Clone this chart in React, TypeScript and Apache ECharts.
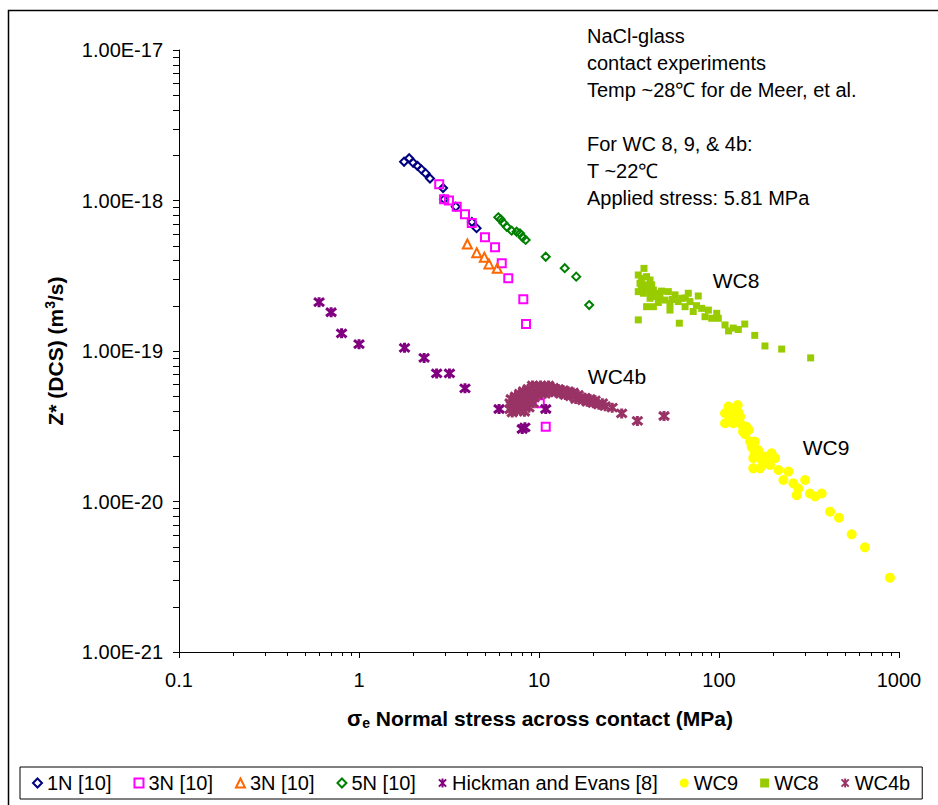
import React, { useEffect, useRef } from "react";
import * as echarts from "echarts";

const FONT = "'Liberation Sans', Arial, Helvetica, sans-serif";

// Axis ranges (log scale)
const X_MIN = 0.1;
const X_MAX = 1000;
const Y_MIN = 1e-21;
const Y_MAX = 1e-17;
// y values are plotted in units of 1e-21 m^3/s to keep the log scale numerically stable
const Y_UNIT = 1e-21;
const MINOR_MULTIPLIERS = [2, 3, 4, 5, 6, 7, 8, 9];
const X_DECADES = [0.1, 1, 10, 100];
const Y_DECADES = [1e-21, 1e-20, 1e-19, 1e-18];

// Series names shown in legend
const LEGEND_NAMES = ["1N [10]", "3N [10]", "3N [10] b", "5N [10]", "Hickman and Evans [8]", "WC9", "WC8", "WC4b"];
const LEGEND_LABELS: Record<string, string> = { "3N [10] b": "3N [10]" };

// Data: [normal stress (MPa), Z* (m^3/s)]
const N1_DATA = [
  [1.78, 1.81e-18], [1.9, 1.91e-18], [2.0, 1.78e-18], [2.11, 1.7e-18], [2.22, 1.61e-18],
  [2.34, 1.52e-18], [2.48, 1.4e-18], [2.93, 1.21e-18], [2.97, 1.02e-18], [3.45, 9.1e-19],
  [4.24, 7.2e-19], [4.5, 6.55e-19],
];
const N3A_DATA = [
  [2.79, 1.28e-18], [2.97, 1.02e-18], [3.16, 1.0e-18], [3.49, 9.1e-19], [3.88, 8.1e-19],
  [4.23, 7.1e-19], [5.01, 5.7e-19], [5.7, 4.9e-19], [6.21, 3.83e-19], [6.75, 3.04e-19],
  [8.18, 2.21e-19], [8.47, 1.51e-19], [10.1, 4.5e-20], [10.9, 3.14e-20],
];
const N3B_DATA = [
  [4.0, 5.14e-19], [4.51, 4.5e-19], [4.97, 4.2e-19], [5.27, 3.79e-19], [5.86, 3.55e-19],
];
const N5_DATA = [
  [5.94, 7.73e-19], [6.12, 7.5e-19], [6.34, 7.1e-19], [6.62, 6.69e-19], [7.05, 6.3e-19],
  [7.51, 6.2e-19], [7.84, 6.05e-19], [8.11, 5.7e-19], [8.43, 5.47e-19], [10.9, 4.23e-19],
  [13.9, 3.55e-19], [16.1, 3.12e-19], [19.0, 2.02e-19],
];
const HICKMAN_DATA = [
  [0.6, 2.11e-19], [0.7, 1.81e-19], [0.8, 1.31e-19], [1.0, 1.11e-19], [1.79, 1.05e-19],
  [2.3, 9.0e-20], [2.7, 7.1e-20], [3.18, 7.1e-20], [3.88, 5.65e-20], [6.0, 4.12e-20],
  [10.9, 4.12e-20], [8.07, 3.03e-20], [8.35, 3.11e-20],
];
const WC9_DATA = [
  [113, 4.27e-20], [127, 4.38e-20], [108, 3.86e-20], [115, 3.66e-20], [123, 3.76e-20],
  [131, 3.66e-20], [108, 3.31e-20], [120, 3.31e-20], [131, 3.31e-20], [136, 3.14e-20],
  [142, 3.14e-20], [136, 2.91e-20], [146, 2.99e-20], [149, 2.5e-20], [158, 2.5e-20],
  [158, 2.09e-20], [169, 2.04e-20], [180, 1.99e-20], [196, 2.09e-20], [155, 1.94e-20],
  [173, 1.89e-20], [188, 1.84e-20], [205, 1.94e-20], [155, 1.66e-20], [169, 1.66e-20],
  [192, 1.75e-20], [214, 1.62e-20], [243, 1.58e-20], [228, 1.39e-20], [259, 1.32e-20],
  [301, 1.39e-20], [276, 1.22e-20], [270, 1.1e-20], [320, 1.13e-20], [342, 1.08e-20],
  [372, 1.13e-20], [414, 8.56e-21], [464, 7.81e-21], [546, 6.05e-21], [647, 4.96e-21],
  [891, 3.12e-21], [118, 4.0e-20], [125, 3.5e-20], [128, 3.9e-20], [140, 2.8e-20],
  [152, 2.3e-20], [165, 2.2e-20], [178, 1.8e-20],
];
const WC8_DATA = [
  [38.3, 3.54e-19], [35.6, 3.2e-19], [37.2, 3.04e-19], [39.6, 3.12e-19], [41.4, 2.96e-19],
  [36.4, 2.82e-19], [38.8, 2.75e-19], [42.3, 2.75e-19], [35.6, 2.48e-19], [38.0, 2.42e-19],
  [41.4, 2.48e-19], [43.2, 2.54e-19], [45.1, 2.42e-19], [47.0, 2.29e-19], [52.3, 2.48e-19],
  [50.1, 2.18e-19], [53.4, 2.07e-19], [53.4, 1.87e-19], [57.0, 2.36e-19], [59.4, 2.13e-19],
  [62.1, 2.24e-19], [67.5, 2.42e-19], [69.0, 2.13e-19], [64.8, 1.97e-19], [71.9, 1.83e-19],
  [76.7, 2.32e-19], [80.1, 1.92e-19], [83.6, 1.69e-19], [87.3, 1.87e-19], [91.1, 1.65e-19],
  [97.1, 1.78e-19], [99.1, 1.65e-19], [39.6, 1.97e-19], [43.2, 1.97e-19], [41.4, 2.24e-19],
  [35.6, 1.61e-19], [60.2, 1.53e-19], [108, 1.49e-19], [113, 1.36e-19], [120, 1.42e-19],
  [128, 1.39e-19], [139, 1.51e-19], [158, 1.27e-19], [180, 1.08e-19], [223, 1.03e-19],
  [323, 9.0e-20], [37, 2.6e-19], [40, 2.65e-19], [44, 2.3e-19], [48, 2.5e-19],
  [46, 2.1e-19], [55, 2.2e-19], [65, 2.25e-19], [75, 2.0e-19],
];
const WC4B_DATA = [
  [6.9, 4.1e-20], [6.9, 4.5e-20], [7.0, 4.8e-20], [7.1, 3.9e-20], [7.2, 4.3e-20],
  [7.3, 4.7e-20], [7.4, 5.0e-20], [7.5, 4.0e-20], [7.6, 4.4e-20], [7.7, 4.9e-20],
  [7.8, 5.2e-20], [7.9, 4.2e-20], [8.0, 4.6e-20], [8.1, 5.0e-20], [8.2, 5.4e-20],
  [8.3, 3.95e-20], [8.4, 4.4e-20], [8.5, 4.8e-20], [8.6, 5.2e-20], [8.7, 5.6e-20],
  [8.8, 4.2e-20], [8.9, 4.6e-20], [9.0, 5.0e-20], [9.1, 5.5e-20], [9.2, 5.9e-20],
  [9.3, 4.5e-20], [9.4, 4.9e-20], [9.5, 5.3e-20], [9.6, 5.8e-20], [9.8, 5.1e-20],
  [10.0, 5.5e-20], [10.2, 5.9e-20], [10.4, 5.3e-20], [10.6, 5.7e-20], [10.8, 5.2e-20],
  [11.0, 5.6e-20], [11.3, 5.9e-20], [11.6, 5.4e-20], [12.0, 5.7e-20], [12.4, 5.3e-20],
  [12.8, 5.6e-20], [13.2, 5.2e-20], [13.6, 5.5e-20], [14.0, 5.1e-20], [14.5, 5.4e-20],
  [15.0, 5.0e-20], [15.5, 5.3e-20], [16.0, 4.8e-20], [16.5, 5.1e-20], [17.0, 4.9e-20],
  [17.5, 4.7e-20], [18.0, 4.9e-20], [18.5, 4.6e-20], [19.2, 4.8e-20], [20.0, 4.5e-20],
  [20.5, 4.7e-20], [21.5, 4.4e-20], [22.5, 4.5e-20], [23.3, 4.3e-20], [25.5, 4.2e-20],
  [28.8, 3.85e-20], [35.2, 3.43e-20], [49.5, 3.7e-20],
];

const NOTE_LINES = [
  "NaCl-glass",
  "contact experiments",
  "Temp ~28\u2103 for de Meer, et al.",
  "",
  "For WC 8, 9, & 4b:",
  "T ~22\u2103",
  "Applied stress: 5.81 MPa",
];

const ASTERISK = "path://M1,1L9,9M9,1L1,9M5,0L5,10";

const scaleY = (data: number[][]) => data.map((d) => [d[0], d[1] / Y_UNIT]);

function hollow(name: string, data: number[][], symbol: string, size: number, color: string) {
  return {
    type: "scatter",
    name,
    data: scaleY(data),
    symbol,
    symbolSize: size,
    itemStyle: { color: "rgba(0,0,0,0)", borderColor: color, borderWidth: 2, opacity: 1 },
  };
}

function filled(name: string, data: number[][], symbol: string, size: number, color: string) {
  return { type: "scatter", name, data: scaleY(data), symbol, symbolSize: size, itemStyle: { color, opacity: 1 } };
}

function star(name: string, data: number[][], color: string) {
  return {
    type: "scatter",
    name,
    data: scaleY(data),
    symbol: ASTERISK,
    symbolSize: 10,
    itemStyle: { color: "rgba(0,0,0,0)", borderColor: color, borderWidth: 3, opacity: 1 },
  };
}

function fmtX(v: number) {
  return String(Number(v.toPrecision(6)));
}
function fmtY(v: number) {
  return (v * Y_UNIT).toExponential(2).toUpperCase();
}

export default function App() {
  const ref = useRef<HTMLDivElement>(null);
  useEffect(() => {
    const chart = echarts.init(ref.current as HTMLDivElement, null, { renderer: "svg" });
    const yMinor: number[][] = [];
    Y_DECADES.forEach((d) => MINOR_MULTIPLIERS.forEach((m) => yMinor.push([X_MIN, (m * d) / Y_UNIT])));
    const xMinor: number[][] = [];
    X_DECADES.forEach((d) => MINOR_MULTIPLIERS.forEach((m) => xMinor.push([m * d, Y_MIN / Y_UNIT])));

    const option: any = {
      animation: false,
      backgroundColor: "#fff",
      textStyle: { fontFamily: FONT },
      grid: { left: 179, top: 50, width: 720, height: 602 },
      xAxis: {
        type: "log",
        logBase: 10,
        min: X_MIN,
        max: X_MAX,
        axisLine: { show: true, onZero: false, lineStyle: { color: "#000", width: 1 } },
        axisTick: { show: true, length: 6, lineStyle: { color: "#000" } },
        axisLabel: { fontSize: 20, fontFamily: FONT, color: "#000", margin: 18, formatter: fmtX },
        splitLine: { show: false },
      },
      yAxis: {
        type: "log",
        logBase: 10,
        min: Y_MIN / Y_UNIT,
        max: Y_MAX / Y_UNIT,
        axisLine: { show: true, onZero: false, lineStyle: { color: "#000", width: 1 } },
        axisTick: { show: true, length: 6, lineStyle: { color: "#000" } },
        axisLabel: { fontSize: 20, fontFamily: FONT, color: "#000", margin: 16, formatter: fmtY },
        splitLine: { show: false },
      },
      legend: {
        data: LEGEND_NAMES,
        left: 20,
        top: 767,
        itemGap: 22,
        itemWidth: 9,
        itemHeight: 9,
        padding: [6, 12, 6, 12],
        borderColor: "#000",
        borderWidth: 1,
        selectedMode: false,
        textStyle: { fontSize: 20, fontFamily: FONT, color: "#000" },
        formatter: (n: string) => LEGEND_LABELS[n] || n,
      },
      series: [
        hollow("1N [10]", N1_DATA, "diamond", 8, "#000080"),
        hollow("3N [10]", N3A_DATA, "rect", 8, "#FF00FF"),
        hollow("3N [10] b", N3B_DATA, "triangle", 9, "#FF6600"),
        hollow("5N [10]", N5_DATA, "diamond", 8, "#008000"),
        star("Hickman and Evans [8]", HICKMAN_DATA, "#800080"),
        filled("WC9", WC9_DATA, "circle", 10, "#FFFF00"),
        filled("WC8", WC8_DATA, "rect", 7, "#99CC00"),
        star("WC4b", WC4B_DATA, "#993366"),
        {
          type: "custom",
          name: "yMinorTicks",
          silent: true,
          data: yMinor,
          renderItem: (_p: any, api: any) => {
            const pt = api.coord([api.value(0), api.value(1)]);
            const y = Math.round(pt[1]) + 0.5;
            return { type: "line", shape: { x1: pt[0] - 6, y1: y, x2: pt[0], y2: y }, style: { stroke: "#000", lineWidth: 1 } };
          },
        },
        {
          type: "custom",
          name: "xMinorTicks",
          silent: true,
          data: xMinor,
          renderItem: (_p: any, api: any) => {
            const pt = api.coord([api.value(0), api.value(1)]);
            const x = Math.round(pt[0]) + 0.5;
            return { type: "line", shape: { x1: x, y1: pt[1], x2: x, y2: pt[1] + 4 }, style: { stroke: "#000", lineWidth: 1 } };
          },
        },
      ],
      graphic: [
        { type: "rect", shape: { x: 8.5, y: 10.5, width: 940, height: 800 }, style: { fill: "none", stroke: "#000", lineWidth: 1.5 }, silent: true },
        {
          type: "text",
          x: 587,
          y: 22,
          style: { text: NOTE_LINES.join("\n"), font: `20px ${FONT}`, fill: "#000", lineHeight: 27, align: "left", verticalAlign: "top" },
        },
        { type: "text", x: 736, y: 280, style: { text: "WC8", font: `21px ${FONT}`, fill: "#000", align: "center", verticalAlign: "middle" } },
        { type: "text", x: 617, y: 376, style: { text: "WC4b", font: `21px ${FONT}`, fill: "#000", align: "center", verticalAlign: "middle" } },
        { type: "text", x: 826, y: 447, style: { text: "WC9", font: `21px ${FONT}`, fill: "#000", align: "center", verticalAlign: "middle" } },
        {
          type: "text",
          x: 540,
          y: 718,
          style: {
            text: "{s|\u03c3}{sub|e}{b| Normal stress across contact (MPa)}",
            align: "center",
            verticalAlign: "middle",
            rich: {
              s: { font: `bold 22px ${FONT}`, fill: "#000" },
              sub: { font: `bold 14px ${FONT}`, fill: "#000", padding: [10, 0, 0, 0] },
              b: { font: `bold 21px ${FONT}`, fill: "#000" },
            },
          },
        },
        {
          type: "text",
          x: 55,
          y: 351,
          rotation: Math.PI / 2,
          style: {
            text: "{b|Z* (DCS) (m}{sup|3}{b|/s)}",
            align: "center",
            verticalAlign: "middle",
            rich: {
              b: { font: `bold 21px ${FONT}`, fill: "#000" },
              sup: { font: `bold 14px ${FONT}`, fill: "#000", padding: [0, 0, 10, 0] },
            },
          },
        },
      ],
    };
    chart.setOption(option);
    return () => chart.dispose();
  }, []);
  return (
    <div
      ref={ref}
      style={{ position: "fixed", left: 0, top: 0, width: 938, height: 805, background: "#fff" }}
    />
  );
}
